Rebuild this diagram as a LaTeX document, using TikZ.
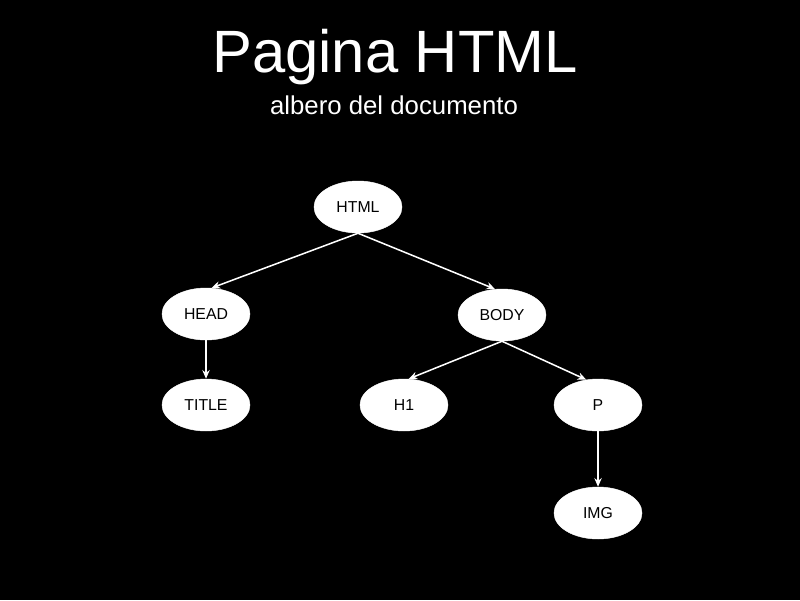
\documentclass[tikz,border=0pt]{standalone}
\usepackage{fontspec}
\setmainfont{Liberation Sans}
\usetikzlibrary{arrows.meta,positioning,shapes.geometric}

\begin{document}
\begin{tikzpicture}[
    tag/.style={ellipse, fill=white, draw=white, minimum width=2.64cm, minimum height=1.56cm, inner sep=0pt, font=\fontsize{13.5}{16}\selectfont, text=black},
    arrow/.style={-{Stealth[length=2.6mm,width=2.2mm]}, white, line width=1.3pt},
    heading/.style={text=white, inner sep=0pt}
]
\fill[black] (0,0) rectangle (24,18);
\useasboundingbox (0,0) rectangle (24,18);

\node[heading, font=\fontsize{51}{56}\selectfont] (title) at (11.85,16.29) {Pagina HTML};
\node[heading, font=\fontsize{22}{26}\selectfont] (subtitle) at (11.82,14.85) {albero del documento};

\node[tag] (html) at (10.74,11.79) {HTML};
\node[tag] (head) at (6.18,8.58) {HEAD};
\node[tag] (body) at (15.06,8.55) {BODY};
\node[tag] (titletag) at (6.18,5.85) {TITLE};
\node[tag] (h1) at (12.12,5.85) {H1};
\node[tag] (p) at (17.94,5.85) {P};
\node[tag] (img) at (17.94,2.61) {IMG};

\draw[arrow] (html.south) -- (head.78);
\draw[arrow] (html.south) -- (body.105);
\draw[arrow] (head.south) -- (titletag.north);
\draw[arrow] (body.south) -- (h1.80);
\draw[arrow] (body.south) -- (p.115);
\draw[arrow] (p.south) -- (img.north);
\end{tikzpicture}
\end{document}
